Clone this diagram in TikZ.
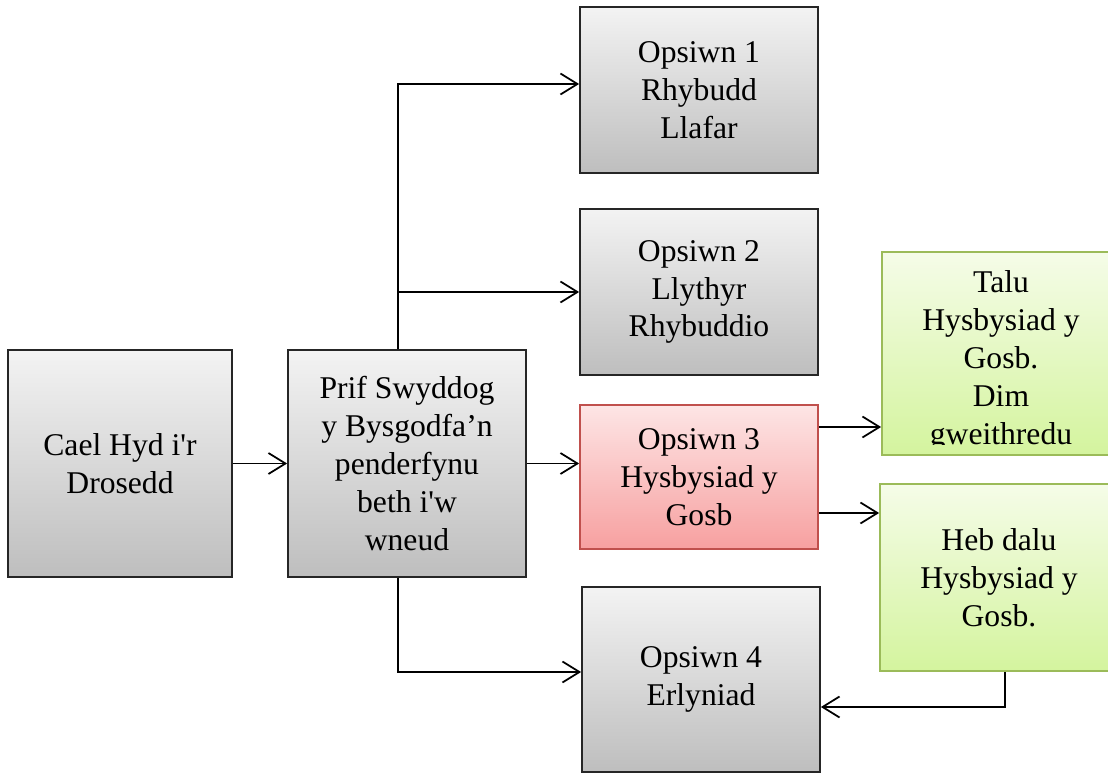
\documentclass[tikz,border=0pt]{standalone}
\usepackage{fontspec}
\setmainfont{Liberation Serif}
\usetikzlibrary{arrows.meta}
\usetikzlibrary{calc}
\definecolor{greytop}{RGB}{243,243,243}
\definecolor{greybot}{RGB}{190,190,190}
\definecolor{redtop}{RGB}{253,229,229}
\definecolor{redbot}{RGB}{247,160,160}
\definecolor{redline}{RGB}{192,80,77}
\definecolor{greentop}{RGB}{245,252,232}
\definecolor{greenbot}{RGB}{212,244,158}
\definecolor{greenline}{RGB}{155,187,89}
\tikzset{
	stage/.style={draw=black!85, line width=1pt, top color=greytop, bottom color=greybot,
		minimum width=4.76cm, inner sep=0pt, align=center, font=\fontsize{18}{21.5}\selectfont},
	stagered/.style={stage, draw=redline, top color=redtop, bottom color=redbot},
	stagegreen/.style={stage, draw=greenline, top color=greentop, bottom color=greenbot},
	arr/.style={line width=1pt, -{Straight Barb[length=3.4mm, width=4.2mm]}}
}
\newcommand{\q}{\textquotesingle}

\begin{document}
\begin{tikzpicture}
\useasboundingbox (0,0) rectangle (22.16,-15.48);

% start
\node[stage, minimum width=4.48cm, minimum height=4.54cm] (find) at (2.40,-9.27) {Cael Hyd i\q r\\Drosedd};
\node[stage, minimum height=4.54cm] (chief) at (8.14,-9.27) {Prif Swyddog\\y Bysgodfa’n\\penderfynu\\beth i\q w\\wneud};

% options
\node[stage, minimum height=3.32cm] (opt1) at (13.98,-1.80) {Opsiwn 1\\Rhybudd\\Llafar};
\node[stage, minimum height=3.32cm] (opt2) at (13.98,-5.84) {Opsiwn 2\\Llythyr\\Rhybuddio};
\node[stagered, minimum height=2.88cm] (opt3) at (13.98,-9.54) {Opsiwn 3\\Hysbysiad y\\Gosb};
\node[stage, minimum height=3.70cm] (opt4) at (14.02,-13.59) {Opsiwn 4\\Erlyniad};

% penalty notice
\node[stagegreen, minimum height=4.06cm] (paid) at (20.02,-7.07) {};
\begin{scope}
	\clip ([yshift=2.2mm]paid.south west) rectangle (paid.north east);
	\node[align=center, font=\fontsize{18}{21.5}\selectfont] (paidtext) at (20.02,-7.22) {Talu\\Hysbysiad y\\Gosb.\\Dim\\gweithredu};
\end{scope}
\node[stagegreen, minimum height=3.74cm] (unpaid) at (19.98,-11.55) {Heb dalu\\Hysbysiad y\\Gosb.};

% arrows
\draw[arr] (find.east) -- (chief.west);
\draw[arr] (chief.east) -- (chief.east -| opt3.west);
\draw[arr] ([xshift=-1.8mm]chief.north) |- ([yshift=1.2mm]opt1.west);
\draw[arr] ([xshift=-1.8mm]chief.north) |- (opt2.west);
\draw[arr] ([xshift=-1.8mm]chief.south) |- ([yshift=1.5mm]opt4.west);
\draw[arr] ([yshift=1cm]opt3.east) coordinate (o3a) -- (o3a -| paid.west);
\draw[arr] ([yshift=-7.2mm]opt3.east) coordinate (o3b) -- (o3b -| unpaid.west);
\draw[arr] ([xshift=1.2mm]unpaid.south) |- ([yshift=-5.5mm]opt4.east);
\end{tikzpicture}
\end{document}
